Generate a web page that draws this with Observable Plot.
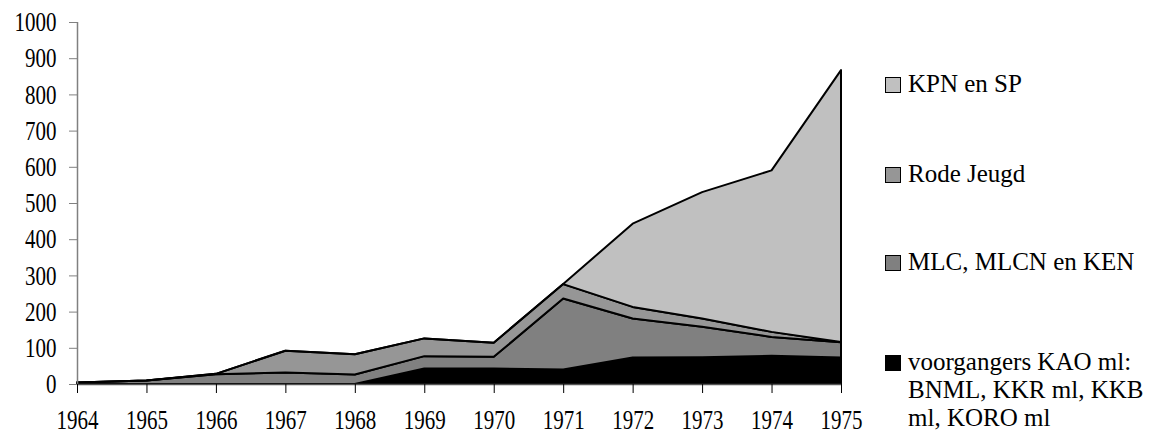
<!DOCTYPE html>
<html>
<head>
<meta charset="utf-8">
<script src="https://cdn.jsdelivr.net/npm/d3@7"></script>
<script src="https://cdn.jsdelivr.net/npm/@observablehq/plot@0.6"></script>
<style>
  html, body { margin: 0; padding: 0; background: #fff; }
  #wrap { position: relative; width: 1151px; height: 434px; overflow: hidden; font-family: 'Liberation Serif', 'DejaVu Serif', serif; }
  #chart { position: absolute; left: 0; top: 0; }
  .leg { position: absolute; left: 885px; font-family: 'Liberation Serif', 'DejaVu Serif', serif; font-size: 25px; line-height: 28px; color: #000; }
  .leg .sw { position: absolute; left: 0; top: 7px; width: 14px; height: 14px; border: 1.5px solid #000; box-sizing: content-box; }
  .leg .tx { margin-left: 23px; white-space: nowrap; }
</style>
</head>
<body>
<div id="wrap"><div id="chart"></div></div>
<script>
// Data
const years = [1964, 1965, 1966, 1967, 1968, 1969, 1970, 1971, 1972, 1973, 1974, 1975];
const voorgangers = [0, 0, 0, 0, 0, 43, 43, 40, 73, 74, 78, 73];
const mlc = [4, 10, 27, 32, 26, 34, 32, 196, 108, 84, 52, 42];
const rodeJeugd = [0, 0, 1, 60, 56, 49, 39, 40, 32, 23, 14, 1];
const kpn = [0, 0, 0, 0, 0, 0, 0, 0, 230, 349, 446, 751];
const seriesNames = ["voorgangers KAO ml: BNML, KKR ml, KKB ml, KORO ml", "MLC, MLCN en KEN", "Rode Jeugd", "KPN en SP"];
const seriesColors = ["#000000", "#808080", "#969696", "#c0c0c0"];
const yTicks = [0, 100, 200, 300, 400, 500, 600, 700, 800, 900, 1000];

const seriesValues = [voorgangers, mlc, rodeJeugd, kpn];
const rows = [];
seriesNames.forEach((name, i) => {
  years.forEach((yr, j) => rows.push({year: yr, series: name, value: seriesValues[i][j]}));
});

const FONT = "Liberation Serif";
const chart = Plot.plot({
  width: 880,
  height: 434,
  marginLeft: 77,
  marginRight: 39,
  marginTop: 22,
  marginBottom: 50,
  style: {fontFamily: "'Liberation Serif', 'DejaVu Serif', serif", fontSize: "21px", color: "#000", background: "#fff"},
  x: {domain: [1964, 1975]},
  y: {domain: [0, 1000]},
  color: {domain: seriesNames, range: seriesColors},
  marks: [
    Plot.areaY(rows, {x: "year", y: "value", z: "series", fill: "series", stroke: "#000", strokeWidth: 2, strokeLinejoin: "round", order: seriesNames}),
    Plot.ruleX([1964], {y1: 0, y2: 1000, stroke: "#808080", strokeWidth: 1.5}),
    Plot.ruleY([0], {stroke: "#555", strokeWidth: 1.5}),
    Plot.axisY({ticks: yTicks, tickFormat: d => String(d), tickSize: 8, tickPadding: 13, stroke: "#808080", fill: "#000", fontFamily: FONT, fontSize: 21, label: null}),
    Plot.axisX({ticks: years, tickFormat: d => String(d), tickSize: 9, tickPadding: 19, stroke: "#000", fill: "#000", fontFamily: FONT, fontSize: 21, label: null})
  ]
});
document.getElementById("chart").appendChild(chart);

// The reference's tick labels look vertically stretched: wrap each label in a group
// that stretches it about its own rendered centre.
const svgNS = "http://www.w3.org/2000/svg";
chart.querySelectorAll('g[aria-label$="tick label"] text').forEach(t => {
  const parent = t.parentNode;
  const r = t.getBoundingClientRect();
  const ctm = parent.getScreenCTM();
  if (!ctm || !r.width) return;
  const pt = chart.createSVGPoint();
  pt.x = r.left + r.width / 2; pt.y = r.top + r.height / 2;
  const c = pt.matrixTransform(ctm.inverse());
  const g = document.createElementNS(svgNS, "g");
  g.setAttribute("transform", `translate(${c.x},${c.y}) scale(1,1.28) translate(${-c.x},${-c.y})`);
  parent.insertBefore(g, t);
  g.appendChild(t);
});

// Legend (right side), top to bottom in reverse stacking order
const legendTops = {"KPN en SP": 70, "Rode Jeugd": 160, "MLC, MLCN en KEN": 248, "voorgangers KAO ml: BNML, KKR ml, KKB ml, KORO ml": 348};
const legendLines = {
  "KPN en SP": ["KPN en SP"],
  "Rode Jeugd": ["Rode Jeugd"],
  "MLC, MLCN en KEN": ["MLC, MLCN en KEN"],
  "voorgangers KAO ml: BNML, KKR ml, KKB ml, KORO ml": ["voorgangers KAO ml:", "BNML, KKR ml, KKB", "ml, KORO ml"]
};
const wrap = document.getElementById("wrap");
[...seriesNames].reverse().forEach(name => {
  const i = seriesNames.indexOf(name);
  const item = document.createElement("div");
  item.className = "leg";
  item.style.top = legendTops[name] + "px";
  const sw = document.createElement("div");
  sw.className = "sw";
  sw.style.background = seriesColors[i];
  item.appendChild(sw);
  legendLines[name].forEach(line => {
    const t = document.createElement("div");
    t.className = "tx";
    t.textContent = line;
    item.appendChild(t);
  });
  wrap.appendChild(item);
});
</script>
</body>
</html>
